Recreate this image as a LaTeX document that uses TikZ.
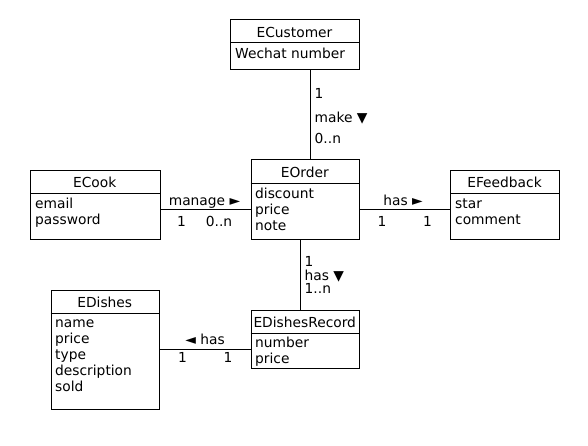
\documentclass[tikz,border=0pt]{standalone}
\usepackage{fontspec}
\setmainfont{DejaVu Sans}
\begin{document}
\begin{tikzpicture}[x=1pt,y=-1pt,
  cls/.style={draw, line width=0.9pt, inner sep=0pt, anchor=north west},
  ttl/.style={anchor=base, inner sep=0pt, font=\fontsize{13.8}{16}\selectfont},
  attr/.style={anchor=base west, inner sep=0pt, font=\fontsize{13.8}{16}\selectfont},
  lbl/.style={anchor=base, inner sep=0pt, font=\fontsize{13.8}{16}\selectfont},
  lblw/.style={anchor=base west, inner sep=0pt, font=\fontsize{13.8}{16}\selectfont},
  conn/.style={line width=0.9pt}]
\useasboundingbox (0,0) rectangle (588,445);
\fill[white] (0,0) rectangle (588,445);

% ECustomer
\node[cls, minimum width=129pt, minimum height=49.5pt] (cust) at (230,19) {};
\draw[conn] (230,42.5) -- (359,42.5);
\node[ttl] (custT) at (294.5,37) {ECustomer};
\node[attr] (custA) at (235,58) {Wechat number};

% EOrder
\node[cls, minimum width=108.5pt, minimum height=79.5pt] (order) at (250.5,159) {};
\draw[conn] (250.5,183.5) -- (359,183.5);
\node[ttl] (orderT) at (304.75,177.5) {EOrder};
\node[attr] (orderA1) at (255,198) {discount};
\node[attr] (orderA2) at (255,214) {price};
\node[attr] (orderA3) at (255,230) {note};

% ECook
\node[cls, minimum width=129.5pt, minimum height=69pt] (cook) at (30,169.5) {};
\draw[conn] (30,193.5) -- (159.5,193.5);
\node[ttl] (cookT) at (94.75,187.5) {ECook};
\node[attr] (cookA1) at (35,208) {email};
\node[attr] (cookA2) at (35,224) {password};

% EFeedback
\node[cls, minimum width=109pt, minimum height=69pt] (feed) at (450,169.5) {};
\draw[conn] (450,193.5) -- (559,193.5);
\node[ttl] (feedT) at (504.5,187.5) {EFeedback};
\node[attr] (feedA1) at (455,208) {star};
\node[attr] (feedA2) at (455,224) {comment};

% EDishesRecord
\node[cls, minimum width=108.5pt, minimum height=58.5pt] (rec) at (250.5,309.5) {};
\draw[conn] (250.5,333) -- (359,333);
\node[ttl] (recT) at (304.75,327) {EDishesRecord};
\node[attr] (recA1) at (255,347) {number};
\node[attr] (recA2) at (255,363) {price};

% EDishes
\node[cls, minimum width=108.5pt, minimum height=119pt] (dish) at (50.5,289.5) {};
\draw[conn] (50.5,313) -- (159,313);
\node[ttl] (dishT) at (104.75,307) {EDishes};
\node[attr] (dishA1) at (55,327.5) {name};
\node[attr] (dishA2) at (55,343.5) {price};
\node[attr] (dishA3) at (55,359.5) {type};
\node[attr] (dishA4) at (55,375.5) {description};
\node[attr] (dishA5) at (55,391.5) {sold};

% connectors
\coordinate (cx) at (310.3,0);
\draw[conn] (cust.south -| cx) -- (order.north -| cx);
\coordinate (cy) at (0,209.3);
\draw[conn] (cook.east |- cy) -- (order.west |- cy);
\draw[conn] (order.east |- cy) -- (feed.west |- cy);
\coordinate (ox) at (300.3,0);
\draw[conn] (order.south -| ox) -- (rec.north -| ox);
\coordinate (dy) at (0,349);
\draw[conn] (dish.east |- dy) -- (rec.west |- dy);

% labels
\node[lblw] (m1) at (314.5,98) {1};
\node[lblw] (m2) at (314.5,122.5) {make ▼};
\node[lblw] (m3) at (314.5,143) {0..n};

\node[lbl] (g1) at (204.5,205) {manage ►};
\node[lbl] (g2) at (181.5,226.5) {1};
\node[lbl] (g3) at (219,226.5) {0..n};

\node[lbl] (f1) at (403,205) {has ►};
\node[lbl] (f2) at (382,226.5) {1};
\node[lbl] (f3) at (427.5,226.5) {1};

\node[lblw] (r1) at (304.5,266.5) {1};
\node[lblw] (r2) at (304.5,280) {has ▼};
\node[lblw] (r3) at (304.5,293.5) {1..n};

\node[lbl] (d1) at (205,344.5) {◄ has};
\node[lbl] (d2) at (182.5,362.5) {1};
\node[lbl] (d3) at (228,362.5) {1};
\end{tikzpicture}
\end{document}
